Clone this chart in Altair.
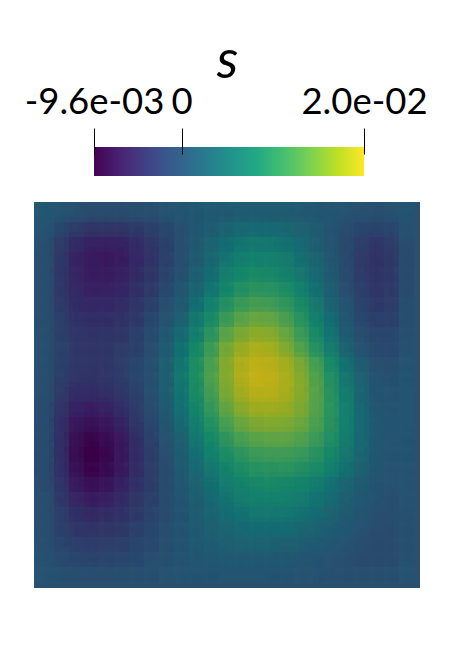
import altair as alt
import pandas as pd

TITLE = "s"
BAR_MIN, BAR_MAX = -9.6e-3, 2.0e-2
DOMAIN = [-0.01618, 0.02614]
TICK_VALUES = [-9.6e-3, 0.0, 2.0e-2]
TICK_LABELS = ["-9.6e-03", "0", "2.0e-02"]
VIRIDIS = ["#440154", "#482475", "#414487", "#355f8d", "#2a788e", "#21918c",
           "#22a884", "#44bf70", "#7ad151", "#bddf26", "#fde725"]
FIELD_RANGE = ["#3a0048", "#3b1d62", "#323868", "#2a4f70", "#206272", "#1a7a70",
               "#1d8c66", "#3a9a5a", "#64a645", "#94ab25", "#c6b21a"]
EDGE_COLOR = "#2a5070"

# field values in units of 1e-3, top row first
r00 = [0.5,0,-0.5,-1,-1,-1,-0.8,-0.5,0,0.3,0.6,0.9,1.1,1.3,1.4,1.3,1.2,1,0.7,0.4,0,-0.3,-0.5,-0.3,0.2]
r01 = [0,-1.5,-3,-3.8,-4,-3.8,-3.3,-2.5,-1.5,-0.5,0.5,1.5,2.4,3,3.3,3.2,2.8,2.2,1.3,0.2,-0.8,-1.8,-2.2,-1.8,-0.3]
r02 = [-0.5,-3,-5,-6,-6.2,-6,-5,-3.8,-2.3,-0.8,0.8,2.2,3.6,4.6,5,4.8,4.2,3.2,1.8,0.3,-1.3,-2.8,-3.6,-3,-0.8]
r03 = [-0.8,-3.5,-5.8,-6.8,-7,-6.7,-5.6,-4.2,-2.6,-0.9,1,2.8,4.5,5.8,6.4,6.2,5.4,4.1,2.5,0.6,-1.3,-3.2,-4.2,-3.5,-1]
r04 = [-0.8,-3.6,-5.7,-6.7,-6.8,-6.4,-5.3,-3.8,-2.2,-0.4,1.6,3.6,5.6,7.1,7.9,7.7,6.7,5.1,3.2,1.1,-1,-3,-4.1,-3.5,-1]
r05 = [-0.8,-3.5,-5.4,-6.2,-6.3,-5.8,-4.7,-3.3,-1.6,0.3,2.4,4.6,7,8.7,9.7,9.4,8.3,6.3,4.1,1.8,-0.5,-2.6,-3.8,-3.3,-1]
r06 = [-0.8,-3.2,-4.9,-5.6,-5.6,-5.1,-4.1,-2.6,-0.9,1.1,3.5,6.1,8.8,10.9,11.9,11.6,10.2,7.9,5.2,2.6,0,-2.1,-3.3,-3,-0.9]
r07 = [-0.7,-2.8,-4.3,-4.8,-4.8,-4.3,-3.4,-2,-0.2,2,4.7,7.8,11,13.2,14.3,14,12.3,9.6,6.5,3.5,0.7,-1.5,-2.7,-2.5,-0.7]
r08 = [-0.6,-2.4,-3.7,-4.2,-4.1,-3.7,-2.8,-1.3,0.6,3,6,9.6,13.2,15.5,16.6,16.2,14.3,11.3,7.9,4.6,1.5,-0.8,-2,-2,-0.5]
r09 = [-0.6,-2.2,-3.4,-3.8,-3.7,-3.2,-2.3,-0.8,1.3,3.9,7.3,11.2,15,17.3,18.4,18,16.1,13,9.3,5.7,2.4,0,-1.3,-1.4,-0.3]
r10 = [-0.6,-2.3,-3.5,-3.8,-3.6,-3,-2,-0.4,1.7,4.5,8.1,12.2,16,18.5,19.5,19.2,18,15.5,12,8,4.2,1.4,-0.6,-0.9,0]
r11 = [-0.7,-2.7,-4,-4.2,-3.9,-3.1,-2,-0.4,1.8,4.7,8.3,12.4,16,18.6,19.8,19.6,18.5,16.2,13,9,5,2.2,0,-0.4,0.2]
r12 = [-0.8,-3.2,-4.9,-5.2,-4.7,-3.7,-2.3,-0.6,1.6,4.4,7.9,11.8,15.3,17.8,19.1,19.1,18.2,16.4,13.4,9.6,5.8,2.8,0.4,0,0.3]
r13 = [-1,-3.8,-6,-6.5,-6,-4.8,-3.1,-1.1,1,3.7,7,10.6,13.9,16.3,17.7,17.8,17.3,15.7,13.2,9.8,6.1,3.1,0.7,0.2,0.3]
r14 = [-1.1,-4.3,-7,-7.9,-7.3,-5.9,-4,-1.8,0.4,2.9,5.9,9.1,12,14.4,15.7,16,15.8,14.6,12.5,9.5,6.1,3.2,0.9,0.3,0.3]
r15 = [-1.2,-4.6,-7.9,-9,-8.4,-6.9,-4.8,-2.5,-0.2,2.1,4.7,7.5,10.1,12.2,13.5,13.9,13.9,13,11.3,8.8,5.8,3.1,0.9,0.3,0.2]
r16 = [-1.2,-4.7,-8.3,-9.6,-8.9,-7.3,-5.2,-2.9,-0.7,1.5,3.7,6.1,8.3,10.1,11.3,11.7,11.8,11.1,9.7,7.6,5.1,2.8,0.8,0.2,0.1]
r17 = [-1.1,-4.5,-7.9,-9.2,-8.6,-7.1,-5.1,-3,-1,1,2.9,4.9,6.8,8.3,9.3,9.7,9.8,9.2,8,6.3,4.2,2.2,0.6,0,0]
r18 = [-1,-4,-6.9,-8,-7.6,-6.3,-4.6,-2.9,-1.2,0.5,2.2,3.9,5.5,6.8,7.6,7.9,7.7,7,5.8,4.3,2.8,1.3,0.2,-0.2,-0.1]
r19 = [-0.9,-3.4,-5.7,-6.7,-6.4,-5.3,-4,-2.6,-1.2,0.2,1.7,3.1,4.4,5.5,6.2,6.4,6.2,5.6,4.6,3.4,2,0.8,-0.1,-0.5,-0.2]
r20 = [-0.8,-2.8,-4.6,-5.3,-5.1,-4.4,-3.3,-2.2,-1,0.2,1.4,2.5,3.5,4.3,4.8,4.9,4.8,4.3,3.5,2.5,1.3,0.3,-0.5,-0.7,-0.3]
r21 = [-0.7,-2.3,-3.6,-4.1,-4,-3.4,-2.7,-1.8,-0.8,0.2,1.1,2,2.7,3.2,3.5,3.6,3.5,3,2.4,1.6,0.7,-0.2,-0.9,-1,-0.4]
r22 = [-0.5,-1.8,-2.8,-3.1,-3,-2.6,-2.1,-1.4,-0.6,0.2,0.9,1.5,1.9,2.2,2.3,2.3,2.1,1.8,1.3,0.7,0,-0.7,-1.2,-1.2,-0.4]
r23 = [-0.3,-1.2,-1.9,-2.2,-2.1,-1.9,-1.5,-0.9,-0.4,0.1,0.5,0.8,1,1.1,1.1,1,0.8,0.5,0.2,-0.2,-0.6,-1,-1.2,-1,-0.3]
r24 = [0,-0.4,-0.7,-0.9,-0.9,-0.8,-0.6,-0.4,-0.2,0,0.1,0.2,0.3,0.3,0.3,0.2,0.1,0,-0.1,-0.3,-0.5,-0.6,-0.6,-0.5,0]
ROWS = [r00,r01,r02,r03,r04,r05,r06,r07,r08,r09,r10,r11,r12,r13,r14,r15,r16,r17,r18,r19,r20,r21,r22,r23,r24]

cells = pd.DataFrame([
    {"c0": c, "c1": c + 1, "r0": r, "r1": r + 1, "s": v * 1e-3}
    for r, vals in enumerate(ROWS) for c, v in enumerate(vals)
])

FONT = "Lato"
WIDTH = 386
CELL_DOMAIN = [-1 / 3, 25 + 2 / 5]   # 15 px per cell, on whole pixels
BLUR_OFFSETS = [-5, 0, 5]            # stacked copies soften the cell edges

n = len(VIRIDIS) - 1
gradient = alt.LinearGradient(
    gradient="linear", x1=0, x2=1, y1=0, y2=0,
    stops=[alt.GradientStop(offset=i / n, color=col) for i, col in enumerate(VIRIDIS)],
)

label_expr = "datum.value < -0.001 ? '%s' : datum.value > 0.01 ? '%s' : '%s'" % (
    TICK_LABELS[0], TICK_LABELS[2], TICK_LABELS[1])

bar = alt.Chart(pd.DataFrame({"lo": [BAR_MIN], "hi": [BAR_MAX]})).mark_rect(
    fill=gradient
).encode(
    x=alt.X("lo:Q", scale=alt.Scale(domain=DOMAIN, nice=False, zero=False),
            axis=alt.Axis(
                orient="top", values=TICK_VALUES, labelExpr=label_expr,
                domain=False, grid=False, tickSize=26, tickWidth=1, tickColor="black",
                offset=-7, labelFontSize=36.5, labelFont=FONT, labelFontWeight=400,
                labelColor="black", labelPadding=7, labelOverlap=False,
                labelFlush=False, labelBound=False, zindex=1,
                title=TITLE, titleFont=FONT, titleFontSize=54, titleFontStyle="italic",
                titleFontWeight=400, titleColor="black", titlePadding=-4,
            )),
    x2="hi:Q",
).properties(width=WIDTH, height=29)

color_domain = [BAR_MIN + i * (BAR_MAX - BAR_MIN) / n for i in range(n + 1)]
color_scale = alt.Scale(domain=color_domain, range=FIELD_RANGE)
x_enc = alt.X("c0:Q", axis=None, scale=alt.Scale(domain=CELL_DOMAIN, nice=False, zero=False))
y_enc = alt.Y("r0:Q", axis=None, scale=alt.Scale(domain=CELL_DOMAIN, nice=False, zero=False, reverse=True))

layers = []
k = 0
for dx in BLUR_OFFSETS:
    for dy in BLUR_OFFSETS:
        k += 1
        layers.append(
            alt.Chart(cells).mark_rect(xOffset=dx, yOffset=dy, opacity=1 / k, clip=True).encode(
                x=x_enc, x2="c1:Q", y=y_enc, y2="r1:Q",
                color=alt.Color("s:Q", legend=None, scale=color_scale),
            )
        )
heat = alt.layer(*layers).properties(
    width=WIDTH, height=WIDTH, view=alt.ViewBackground(fill=EDGE_COLOR, stroke=None)
)

chart = alt.vconcat(bar, heat, spacing=26).properties(
    background="white",
    padding={"left": 16, "top": 26, "right": 5, "bottom": 5},
).configure_view(stroke=None)

chart.save("out.html", embed_options={"renderer": "svg", "actions": False})
